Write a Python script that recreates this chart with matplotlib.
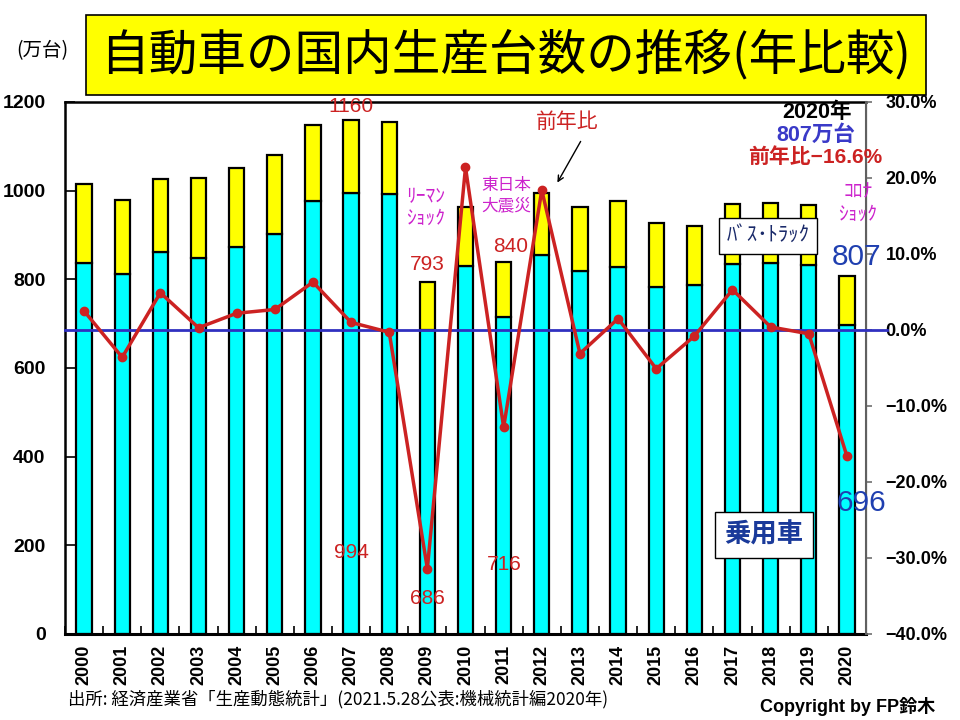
import matplotlib
matplotlib.use('Agg')
import matplotlib.pyplot as plt
import numpy as np
from matplotlib.patches import FancyBboxPatch

plt.rcParams['font.family'] = ['Liberation Sans', 'Noto Sans CJK JP', 'DejaVu Sans']

years = [str(y) for y in range(2000, 2021)]
total = [1014, 978, 1026, 1029, 1051, 1080, 1148, 1160, 1156, 793, 963,
         840, 994, 963, 977, 928, 920, 969, 973, 968, 807]
passenger = [836, 812, 862, 848, 872, 902, 976, 994, 993, 686, 831,
             716, 855, 819, 828, 783, 788, 835, 836, 833, 696]
yoy = [2.5, -3.6, 4.9, 0.3, 2.2, 2.7, 6.3, 1.0, -0.3, -31.4, 21.4,
       -12.8, 18.4, -3.1, 1.5, -5.1, -0.8, 5.3, 0.4, -0.5, -16.6]
left_ticks = [0, 200, 400, 600, 800, 1000, 1200]
right_ticks = [-40, -30, -20, -10, 0, 10, 20, 30]

bus_truck = [t - p for t, p in zip(total, passenger)]
x = np.arange(len(years))

W, H = 960, 720
fig = plt.figure(figsize=(9.6, 7.2), dpi=100)
ax = fig.add_axes([65 / W, 1 - 634 / H, (866 - 65) / W, (634 - 102) / H])

def fx(px):
    return px / W

def fy(py):
    return 1 - py / H

ax.bar(x, passenger, width=0.4, color='#00FFFF', edgecolor='black', linewidth=1.6, zorder=2)
ax.bar(x, bus_truck, bottom=passenger, width=0.4, color='#FFFF00', edgecolor='black',
       linewidth=1.6, zorder=2)
ax.set_xlim(-0.5, len(years) - 0.5)
ax.set_ylim(0, 1200)
ax.set_yticks(left_ticks)
ax.set_yticklabels([str(v) for v in left_ticks], fontsize=14, fontweight='bold')
ax.tick_params(axis='y', direction='in', length=7, width=1.2, pad=14)
ax.set_xticks(x)
ax.set_xticklabels(years, rotation=90, fontsize=13, fontweight='bold')
ax.tick_params(axis='x', length=0, pad=8)
ax.set_xticks(np.arange(-0.5, len(years), 1.0), minor=True)
ax.tick_params(axis='x', which='minor', direction='in', length=6, width=1.2)
for s in ['left', 'top', 'bottom']:
    ax.spines[s].set_color('black')
    ax.spines[s].set_linewidth(1.8)
ax.spines['bottom'].set_linewidth(2.2)

ax2 = ax.twinx()
ax2.set_ylim(-40, 30)
ax2.set_yticks(right_ticks)
ax2.set_yticklabels([('\u2212' if v < 0 else '') + f"{abs(v):.1f}%" for v in right_ticks],
                    fontsize=13, fontweight='bold')
ax2.tick_params(axis='y', direction='out', length=4, width=1.2, color='#707070', pad=10)
ax2.spines['right'].set_color('#606060')
ax2.spines['right'].set_linewidth(1.5)
for s in ['left', 'top', 'bottom']:
    ax2.spines[s].set_visible(False)
ax2.plot([-0.5, 21.05], [0, 0], color='#3030C0', linewidth=2, clip_on=False, zorder=3)
ax2.plot(x, yoy, color='#CC2222', linewidth=2.5, marker='o', markersize=6, zorder=4)

# Title
fig.patches.append(FancyBboxPatch((fx(86), fy(95)), fx(926) - fx(86), fy(15) - fy(95),
                                  boxstyle='square,pad=0', transform=fig.transFigure,
                                  facecolor='#FFFF00', edgecolor='black', linewidth=1.2))
fig.text(fx(506), fy(55), '自動車の国内生産台数の推移(年比較)', fontsize=35, fontweight='normal',
         family=['Noto Sans CJK JP'], ha='center', va='center', color='black')
fig.text(fx(42), fy(51), '(万台)', fontsize=14, ha='center', va='center',
         family=['Noto Sans CJK JP'])

red = '#CC2222'
mag = '#CC22CC'
blue = '#1F3FB0'
fig.text(fx(351), fy(106), '1160', fontsize=15, color=red, ha='center', va='center')
fig.text(fx(427), fy(265), '793', fontsize=15, color=red, ha='center', va='center')
fig.text(fx(351), fy(553), '994', fontsize=15, color=red, ha='center', va='center')
fig.text(fx(427), fy(598), '686', fontsize=15, color=red, ha='center', va='center')
fig.text(fx(511), fy(247), '840', fontsize=15, color=red, ha='center', va='center')
fig.text(fx(504), fy(564), '716', fontsize=15, color=red, ha='center', va='center')

fig.text(fx(426), fy(207), 'ﾘｰﾏﾝ\nｼｮｯｸ', fontsize=14, color=mag, ha='center', va='center',
         linespacing=1.05, family=['Noto Sans CJK JP'])
fig.text(fx(506), fy(196), '東日本\n大震災', fontsize=12, color=mag, ha='center', va='center',
         linespacing=1.25, family=['Noto Sans CJK JP'])
fig.text(fx(858), fy(203), 'ｺﾛﾅ\nｼｮｯｸ', fontsize=14, color=mag, ha='center', va='center',
         linespacing=1.05, family=['Noto Sans CJK JP'])

fig.text(fx(567), fy(122), '前年比', fontsize=15, color=red, ha='center', va='center',
         family=['Noto Sans CJK JP'])
ax.annotate('', xy=(fx(556), fy(185)), xytext=(fx(582), fy(139)),
            xycoords='figure fraction', textcoords='figure fraction',
            arrowprops=dict(arrowstyle='->', color='black', lw=1))

fig.text(fx(817), fy(113), '2020年', fontsize=15.5, fontweight='bold', color='black',
         ha='center', va='center')
fig.text(fx(816), fy(135), '807万台', fontsize=15.5, fontweight='bold', color='#3A3AC8',
         ha='center', va='center')
fig.text(fx(815), fy(157), '前年比\u221216.6%', fontsize=15, fontweight='bold', color=red,
         ha='center', va='center')

fig.text(fx(857), fy(257), '807', fontsize=21.5, color=blue, ha='center', va='center')
fig.text(fx(861), fy(503), '696', fontsize=21.5, color=blue, ha='center', va='center')

fig.text(fx(768), fy(236), 'ﾊﾞｽ･ﾄﾗｯｸ', fontsize=15, color='#1A2A6A', ha='center', va='center',
         family=['Noto Sans CJK JP'],
         bbox=dict(boxstyle='square,pad=0.35', facecolor='white', edgecolor='black', linewidth=1))
fig.text(fx(764), fy(535), '乗用車', fontsize=19, fontweight='bold', color='#1A3A9A',
         ha='center', va='center', family=['Noto Sans CJK JP'],
         bbox=dict(boxstyle='square,pad=0.35', facecolor='white', edgecolor='black', linewidth=1))

fig.text(fx(68), fy(699), '出所: 経済産業省「生産動態統計」(2021.5.28公表:機械統計編2020年)',
         fontsize=12.5, ha='left', va='center', family=['Noto Sans CJK JP'])
fig.text(fx(935), fy(706), 'Copyright by FP鈴木', fontsize=13, fontweight='bold',
         ha='right', va='center')

fig.savefig('out.png', dpi=100)
